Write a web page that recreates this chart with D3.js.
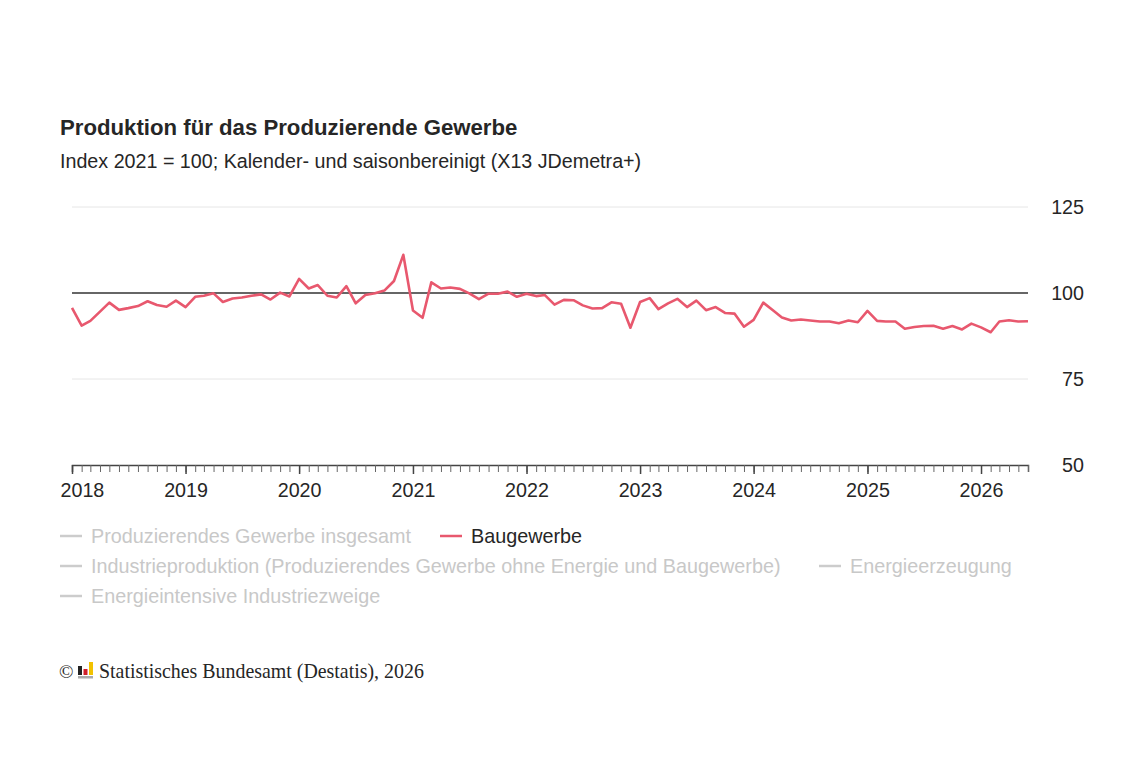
<!DOCTYPE html>
<html><head><meta charset="utf-8">
<script src="https://cdn.jsdelivr.net/npm/d3@7"></script>
<style>
html,body{margin:0;padding:0;background:#fff;}
svg{display:block;font-family:"Liberation Sans",Arial,sans-serif;}
</style></head>
<body><svg id="chart" width="1144" height="762"></svg>
<script>
const startYear = 2018;
const values = [
 95.7,90.5,91.9,94.6,97.2,95.1,95.6,96.2,97.6,96.5,96.0,97.8,
 95.9,98.9,99.2,99.9,97.4,98.4,98.7,99.2,99.6,98.1,100.1,99.0,
 104.1,101.3,102.3,99.2,98.7,102.0,97.0,99.4,99.9,100.7,103.5,111.1,
 94.9,92.8,103.1,101.3,101.6,101.2,99.9,98.2,99.8,99.8,100.4,98.9,
 99.8,99.1,99.4,96.6,98.0,97.9,96.4,95.5,95.6,97.3,96.9,89.9,
 97.4,98.5,95.3,97.0,98.3,95.9,97.8,95.0,95.9,94.2,94.0,90.2,
 92.2,97.2,95.1,92.9,92.0,92.3,92.0,91.7,91.7,91.2,92.0,91.5,
 94.8,91.9,91.7,91.7,89.6,90.1,90.4,90.5,89.6,90.4,89.4,91.1,
 90.0,88.6,91.7,92.1,91.7,91.8
];
const yTicks = [50, 75, 100, 125];
const yearLabels = ["2018","2019","2020","2021","2022","2023","2024","2025","2026"];
const legendItems = [
 {name:"Produzierendes Gewerbe insgesamt", active:false},
 {name:"Baugewerbe", active:true},
 {name:"Industrieproduktion (Produzierendes Gewerbe ohne Energie und Baugewerbe)", active:false},
 {name:"Energieerzeugung", active:false},
 {name:"Energieintensive Industriezweige", active:false}
];
const titleText = "Produktion für das Produzierende Gewerbe";
const subtitleText = "Index 2021 = 100; Kalender- und saisonbereinigt (X13 JDemetra+)";
const sourceText = "Statistisches Bundesamt (Destatis), 2026";

const data = values.map((v,i)=>({date:new Date(startYear, i, 1), value:v}));
const svg = d3.select("#chart");
const lineColor = "#e8586e";
const textCol = "#262626";

svg.append("text").attr("x",60).attr("y",135).attr("font-size",22.2).attr("font-weight","bold").attr("fill",textCol).text(titleText);
svg.append("text").attr("x",60).attr("y",168).attr("font-size",19.7).attr("fill",textCol).text(subtitleText);

const pLeft=72, pRight=1028, pTop=207, pBottom=465;
const x = d3.scaleTime().domain([data[0].date, data[data.length-1].date]).range([pLeft,pRight]);
const y = d3.scaleLinear().domain([50,125]).range([pBottom,pTop]);

// gridlines
svg.append("g").selectAll("line").data(yTicks.filter(t=>t!==50 && t!==100)).join("line")
 .attr("x1",pLeft).attr("x2",pRight).attr("y1",d=>y(d)).attr("y2",d=>y(d))
 .attr("stroke","#e6e6e6").attr("stroke-width",1);
// y labels
svg.append("g").selectAll("text").data(yTicks).join("text")
 .attr("x",1084).attr("y",d=>y(d)+7).attr("text-anchor","end").attr("font-size",19.7).attr("fill",textCol).text(d=>d);
// reference line at 100
svg.append("line").attr("x1",pLeft).attr("x2",pRight).attr("y1",y(100)).attr("y2",y(100)).attr("stroke","#333").attr("stroke-width",1.5);

// x axis
const xAxisMinor = d3.axisBottom(x).ticks(d3.timeMonth.every(1)).tickSize(7).tickFormat("");
const gMinor = svg.append("g").attr("transform",`translate(0,${pBottom})`).call(xAxisMinor);
gMinor.select(".domain").attr("stroke","#444").attr("stroke-width",1.5);
gMinor.selectAll(".tick line").attr("stroke","#666").attr("stroke-width",1);
const xAxisMajor = d3.axisBottom(x).ticks(d3.timeYear.every(1)).tickSize(9).tickFormat((d,i)=>yearLabels[i]);
const gMajor = svg.append("g").attr("transform",`translate(0,${pBottom})`).call(xAxisMajor);
gMajor.select(".domain").remove();
gMajor.selectAll(".tick line").attr("stroke","#444").attr("stroke-width",1.5);
gMajor.selectAll(".tick text").attr("font-size",19.7).attr("fill",textCol).attr("font-family","'Liberation Sans',Arial,sans-serif").attr("y",18).attr("dy","0.71em");
// keep first label inside the plot's left edge
gMajor.selectAll(".tick text").filter((d,i)=>i===0).attr("text-anchor","start").attr("x",-12);

// line
svg.append("path").datum(data)
 .attr("d", d3.line().x(d=>x(d.date)).y(d=>y(d.value)))
 .attr("fill","none").attr("stroke",lineColor).attr("stroke-width",2.6).attr("stroke-linejoin","round");

// legend
const legendPos = [[60,536],[440,536],[60,566],[819,566],[60,596]];
const lg = svg.append("g");
legendItems.forEach((item,i)=>{
  const [lx,ly] = legendPos[i];
  const col = item.active ? lineColor : "#cccccc";
  lg.append("line").attr("x1",lx).attr("x2",lx+22).attr("y1",ly).attr("y2",ly).attr("stroke",col).attr("stroke-width",2.5);
  lg.append("text").attr("x",lx+31).attr("y",ly+7).attr("font-size",19.8)
   .attr("fill", item.active ? textCol : "#c8c8c8").text(item.name);
});

// footer
const fy = 678;
svg.append("text").attr("x",59).attr("y",fy).attr("font-family","'Liberation Serif','Times New Roman',serif").attr("font-size",19).attr("fill",textCol).text("©");
const logo = svg.append("g").attr("transform","translate(78,662)");
logo.append("rect").attr("x",0).attr("y",4).attr("width",4).attr("height",9).attr("fill","#222");
logo.append("rect").attr("x",5.5).attr("y",7).attr("width",4).attr("height",6).attr("fill","#d0202a");
logo.append("rect").attr("x",11).attr("y",0).attr("width",4).attr("height",13).attr("fill","#f2c200");
logo.append("rect").attr("x",0).attr("y",14).attr("width",15).attr("height",2.5).attr("fill","#aaa");
svg.append("text").attr("x",99).attr("y",fy).attr("font-family","'Liberation Serif','Times New Roman',serif").attr("font-size",19.9).attr("fill",textCol).text(sourceText);
</script></body></html>
